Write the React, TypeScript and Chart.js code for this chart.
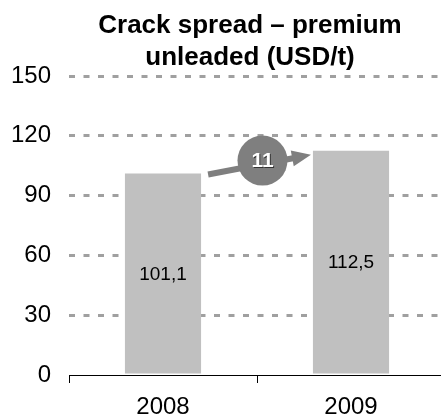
import React, { useEffect, useRef } from "react";
import { Chart, registerables } from "chart.js";

Chart.register(...registerables);

const titleLines = ["Crack spread – premium", "unleaded (USD/t)"];
const categories = ["2008", "2009"];
const values = [101.1, 112.5];
const changeLabel = "11";
const yMin = 0;
const yMax = 150;
const yStep = 30;

const FONT = "Arial, 'Liberation Sans', Helvetica, sans-serif";

const overlayPlugin = {
  id: "overlay",
  afterDraw(chart: any) {
    const ctx = chart.ctx;
    // Title
    ctx.save();
    ctx.fillStyle = "#000";
    ctx.font = `bold 26px ${FONT}`;
    ctx.textAlign = "center";
    ctx.textBaseline = "alphabetic";
    ctx.fillText(titleLines[0], 250, 33);
    ctx.fillText(titleLines[1], 250, 65);
    ctx.restore();
  },
  afterDatasetsDraw(chart: any) {
    const ctx = chart.ctx;
    const meta = chart.getDatasetMeta(0);
    const bars = meta.data;
    // value labels
    ctx.save();
    ctx.fillStyle = "#000";
    ctx.font = `19px ${FONT}`;
    ctx.textAlign = "center";
    ctx.textBaseline = "middle";
    bars.forEach((b: any, i: number) => {
      const p = b.getProps(["x", "y", "base"], true);
      const txt = String(values[i]).replace(".", ",");
      ctx.fillText(txt, p.x, (p.y + p.base) / 2 + 1);
    });
    ctx.restore();

    // arrow between bars
    if (bars.length < 2) return;
    const a = bars[0].getProps(["x", "y", "width"], true);
    const b = bars[1].getProps(["x", "y", "width"], true);
    const x0 = a.x + a.width / 2 + 7;
    const y0 = a.y + 1;
    const x1 = b.x - b.width / 2 - 2;
    const y1 = b.y + 4;
    const ang = Math.atan2(y1 - y0, x1 - x0);
    const headLen = 19;
    const headHalf = 8;
    const bx = x1 - headLen * Math.cos(ang);
    const by = y1 - headLen * Math.sin(ang);
    ctx.save();
    ctx.strokeStyle = "#7f7f7f";
    ctx.fillStyle = "#7f7f7f";
    ctx.lineWidth = 6;
    ctx.beginPath();
    ctx.moveTo(x0, y0);
    ctx.lineTo(bx + 2 * Math.cos(ang), by + 2 * Math.sin(ang));
    ctx.stroke();
    ctx.beginPath();
    ctx.moveTo(x1, y1);
    ctx.lineTo(bx - headHalf * Math.sin(ang), by + headHalf * Math.cos(ang));
    ctx.lineTo(bx + headHalf * Math.sin(ang), by - headHalf * Math.cos(ang));
    ctx.closePath();
    ctx.fill();
    // circle
    const cx = (x0 + x1) / 2 + 3;
    const cy = (y0 + y1) / 2 - 4;
    ctx.beginPath();
    ctx.arc(cx, cy, 25, 0, Math.PI * 2);
    ctx.fill();
    ctx.font = `bold 21px ${FONT}`;
    ctx.textAlign = "center";
    ctx.textBaseline = "middle";
    ctx.fillStyle = "#333";
    ctx.fillText(changeLabel, cx + 1, cy + 2);
    ctx.fillStyle = "#fff";
    ctx.fillText(changeLabel, cx, cy + 1);
    ctx.restore();
  },
};

export default function App() {
  const ref = useRef<HTMLCanvasElement | null>(null);
  useEffect(() => {
    if (!ref.current) return;
    const chart = new Chart(ref.current, {
      type: "bar",
      data: {
        labels: categories,
        datasets: [
          {
            data: values,
            backgroundColor: "#c0c0c0",
            borderWidth: 0,
            categoryPercentage: 1,
            barPercentage: 0.405,
          },
        ],
      },
      options: {
        responsive: false,
        animation: false,
        layout: { padding: { top: 76, right: 1, left: 0, bottom: 0 } },
        plugins: {
          legend: { display: false },
          title: { display: false },
          tooltip: { enabled: false },
        },
        scales: {
          x: {
            offset: true,
            grid: {
              offset: true,
              drawOnChartArea: false,
              drawTicks: true,
              tickLength: 8,
              color: "#000",
              lineWidth: 1,
            },
            border: { display: true, color: "#000", width: 1 },
            ticks: {
              color: "#000",
              font: { family: FONT, size: 24 },
              padding: 10,
            },
            afterFit: (s: any) => {
              s.height = 44;
            },
          },
          y: {
            min: yMin,
            max: yMax,
            ticks: {
              stepSize: yStep,
              color: "#000",
              font: { family: FONT, size: 24 },
              padding: 18,
            },
            grid: {
              drawTicks: false,
              color: (c: any) => (c.tick && c.tick.value === 0 ? "rgba(0,0,0,0)" : "#a0a0a0"),
              lineWidth: 3,
            },
            border: { display: false, dash: [6, 8.5] },
            afterFit: (s: any) => {
              s.width = 69;
            },
          },
        },
      },
      plugins: [overlayPlugin],
    });
    return () => chart.destroy();
  }, []);
  return (
    <div
      style={{
        position: "fixed",
        left: 0,
        top: 0,
        width: 441,
        height: 419,
        overflow: "hidden",
        background: "#fff",
      }}
    >
      <canvas ref={ref} width={446} height={419} style={{ width: 446, height: 419, display: "block" }} />
    </div>
  );
}
